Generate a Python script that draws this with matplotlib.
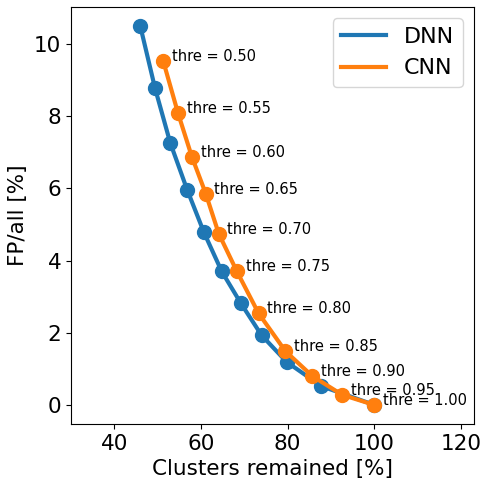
import matplotlib
matplotlib.use("Agg")
from matplotlib import pyplot as plt

thresholds = [0.50, 0.55, 0.60, 0.65, 0.70, 0.75, 0.80, 0.85, 0.90, 0.95, 1.00]

dnn_clusters = [46.0, 49.4, 52.9, 56.8, 60.7, 64.8, 69.2, 74.0, 79.8, 87.8, 100.0]
dnn_fp = [10.5, 8.78, 7.27, 5.97, 4.78, 3.70, 2.82, 1.93, 1.19, 0.52, 0.0]

cnn_clusters = [51.3, 54.7, 57.9, 61.1, 64.1, 68.3, 73.3, 79.5, 85.7, 92.6, 100.0]
cnn_fp = [9.53, 8.09, 6.88, 5.86, 4.75, 3.70, 2.54, 1.49, 0.80, 0.28, 0.0]

fig = plt.figure(figsize=(4.83, 4.8), dpi=100)
ax = fig.add_axes([0.147, 0.117, 0.834, 0.868])

# 线条（图例只显示线）
ax.plot(dnn_clusters, dnn_fp, "-", lw=3, color="C0", label="DNN")
ax.plot(dnn_clusters, dnn_fp, "o", ms=10, color="C0")
ax.plot(cnn_clusters, cnn_fp, "-", lw=3, color="C1", label="CNN")
ax.plot(cnn_clusters, cnn_fp, "o", ms=10, color="C1")

for t, x, y in zip(thresholds, cnn_clusters, cnn_fp):
    ax.text(x + 2, y, f"thre = {t:.2f}", fontsize=10.5)

ax.set_xlim(30, 123)
ax.set_xlabel("Clusters remained [%]", fontsize=15.5)
ax.set_ylabel("FP/all [%]", fontsize=15.5)
ax.tick_params(labelsize=15.5)
ax.legend(loc="upper right", fontsize=16)

fig.savefig("out.png", dpi=100)
